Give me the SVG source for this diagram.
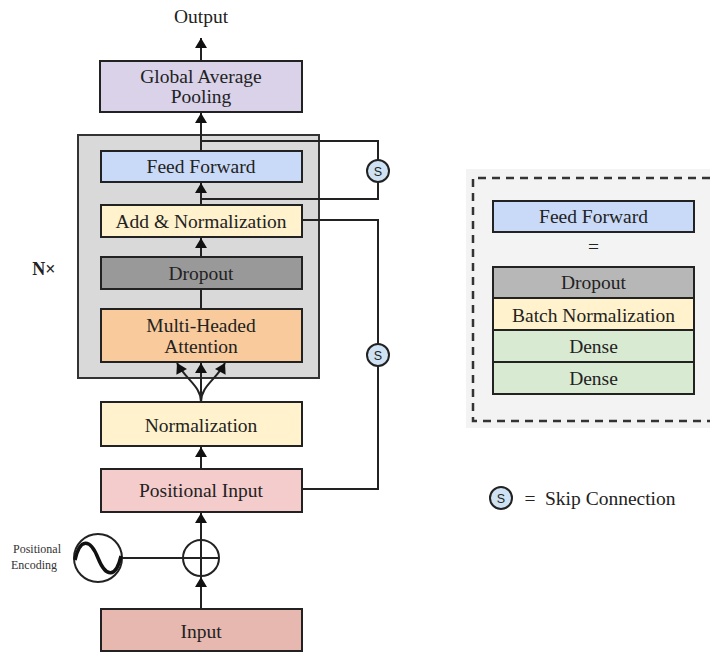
<svg xmlns="http://www.w3.org/2000/svg" width="710" height="652" viewBox="0 0 710 652">
  <style>
    .box { stroke: #222; stroke-width: 2; }
    .lbl { font-family: "Liberation Serif", "Times New Roman", serif; font-size: 19.5px; fill: #222; text-anchor: middle; }
    .wire { fill: none; stroke: #222; stroke-width: 2; }
    .skip { fill: #cfe2f3; stroke: #222; stroke-width: 2; }
    .skiplbl { font-family: "Liberation Sans", Arial, sans-serif; font-size: 12.5px; fill: #222; text-anchor: middle; }
  </style>
  <defs>
    <marker id="arrow" viewBox="0 0 10 12" refX="10" refY="6" markerWidth="11" markerHeight="12" markerUnits="userSpaceOnUse" orient="auto">
      <path d="M0,0 L10,6 L0,12 Z" fill="#111"/>
    </marker>
  </defs>

  <rect width="710" height="652" fill="#ffffff"/>

  <!-- encoder block container -->
  <g id="encoder-block">
    <rect x="78" y="135" width="241" height="243" fill="#d9d9d9" stroke="#333" stroke-width="2"/>
  </g>
  <text x="44" y="275" font-family="Liberation Serif, serif" font-size="18" font-weight="bold" fill="#222" text-anchor="middle">N×</text>

  <!-- connectors -->
  <g id="connectors">
    <path class="wire" d="M201,60 L201,38" marker-end="url(#arrow)"/>
    <path class="wire" d="M201,151 L201,113" marker-end="url(#arrow)"/>
    <path class="wire" d="M201,205 L201,183" marker-end="url(#arrow)"/>
    <path class="wire" d="M201,257 L201,238" marker-end="url(#arrow)"/>
    <path class="wire" d="M201,309 L201,289"/>
    <path class="wire" d="M201,402 C201,386 186,380 177,363" marker-end="url(#arrow)"/>
    <path class="wire" d="M201,402 L201,363" marker-end="url(#arrow)"/>
    <path class="wire" d="M201,402 C201,386 216,380 225,363" marker-end="url(#arrow)"/>
    <path class="wire" d="M201,469 L201,447" marker-end="url(#arrow)"/>
    <path class="wire" d="M201,540 L201,513" marker-end="url(#arrow)"/>
    <path class="wire" d="M201,609 L201,577" marker-end="url(#arrow)"/>
    <path class="wire" d="M122,558 L183,558"/>
    <!-- skip connections -->
    <path class="wire" d="M201,141 L378,141 L378,199 L201,199"/>
    <path class="wire" d="M302,220 L378,220 L378,489 L302,489"/>
  </g>

  <g id="output-label">
    <text class="lbl" x="201" y="23">Output</text>
  </g>

  <g id="global-average-pooling">
    <rect class="box" x="100" y="61" width="202" height="51" fill="#d9d2e9"/>
    <text class="lbl" x="201" y="83">Global Average</text>
    <text class="lbl" x="201" y="103">Pooling</text>
  </g>

  <g id="feed-forward">
    <rect class="box" x="101" y="151" width="201" height="31" fill="#c9daf8"/>
    <text class="lbl" x="201" y="173">Feed Forward</text>
  </g>

  <g id="add-norm">
    <rect class="box" x="101" y="205" width="201" height="32" fill="#fff2cc"/>
    <text class="lbl" x="201" y="228">Add &amp; Normalization</text>
  </g>

  <g id="dropout">
    <rect class="box" x="101" y="257" width="201" height="32" fill="#999999"/>
    <text class="lbl" x="201" y="280">Dropout</text>
  </g>

  <g id="multi-head-attention">
    <rect class="box" x="101" y="309" width="201" height="53" fill="#f9cb9c"/>
    <text class="lbl" x="201" y="332">Multi-Headed</text>
    <text class="lbl" x="201" y="353">Attention</text>
  </g>

  <g id="normalization">
    <rect class="box" x="101" y="402" width="201" height="44" fill="#fff2cc"/>
    <text class="lbl" x="201" y="432">Normalization</text>
  </g>

  <g id="positional-input">
    <rect class="box" x="101" y="469" width="201" height="43" fill="#f4cccc"/>
    <text class="lbl" x="201" y="497">Positional Input</text>
  </g>

  <g id="add-op">
    <circle cx="201" cy="558" r="18" fill="#ffffff" stroke="#222" stroke-width="2"/>
    <path d="M183,558 L219,558 M201,540 L201,576" stroke="#222" stroke-width="2"/>
  </g>

  <g id="positional-encoding">
    <circle cx="98" cy="558" r="24" fill="#ffffff" stroke="#222" stroke-width="2"/>
    <path d="M75,560 C80,538 90,538 98,558 C106,578 116,578 121,556" fill="none" stroke="#111" stroke-width="3.5"/>
    <text x="37" y="553" font-family="Liberation Serif, serif" font-size="12" fill="#333" text-anchor="middle">Positional</text>
    <text x="34" y="569" font-family="Liberation Serif, serif" font-size="12" fill="#333" text-anchor="middle">Encoding</text>
  </g>

  <g id="input">
    <rect class="box" x="101" y="609" width="201" height="42" fill="#e6b8af"/>
    <text class="lbl" x="201" y="638">Input</text>
  </g>

  <g id="skip-ff">
    <circle class="skip" cx="378" cy="171" r="11"/>
    <text class="skiplbl" x="378" y="175.5">S</text>
  </g>
  <g id="skip-attn">
    <circle class="skip" cx="378" cy="355" r="11"/>
    <text class="skiplbl" x="378" y="359.5">S</text>
  </g>

  <!-- feed forward breakdown panel -->
  <g id="ff-detail">
    <rect x="466" y="169" width="244" height="259" fill="#f3f3f3"/>
    <path d="M710,178 L473,178 L473,421 L710,421" fill="none" stroke="#333" stroke-width="2.5" stroke-dasharray="8,6"/>
    <rect class="box" x="493" y="201" width="201" height="31" fill="#c9daf8"/>
    <text class="lbl" x="593.5" y="223">Feed Forward</text>
    <text class="lbl" x="593.5" y="253">=</text>
    <rect class="box" x="493" y="267" width="201" height="31" fill="#b7b7b7"/>
    <text class="lbl" x="593.5" y="289">Dropout</text>
    <rect class="box" x="493" y="298" width="201" height="32" fill="#fff2cc"/>
    <text class="lbl" x="593.5" y="322">Batch Normalization</text>
    <rect class="box" x="493" y="330" width="201" height="32" fill="#d9ead3"/>
    <text class="lbl" x="593.5" y="353">Dense</text>
    <rect class="box" x="493" y="362" width="201" height="32" fill="#d9ead3"/>
    <text class="lbl" x="593.5" y="385">Dense</text>
  </g>

  <g id="legend">
    <circle class="skip" cx="501" cy="498" r="11"/>
    <text class="skiplbl" x="501" y="502.5">S</text>
    <text class="lbl" x="530" y="505">=</text>
    <text x="545" y="505" font-family="Liberation Serif, serif" font-size="19.5" fill="#222">Skip Connection</text>
  </g>
</svg>
